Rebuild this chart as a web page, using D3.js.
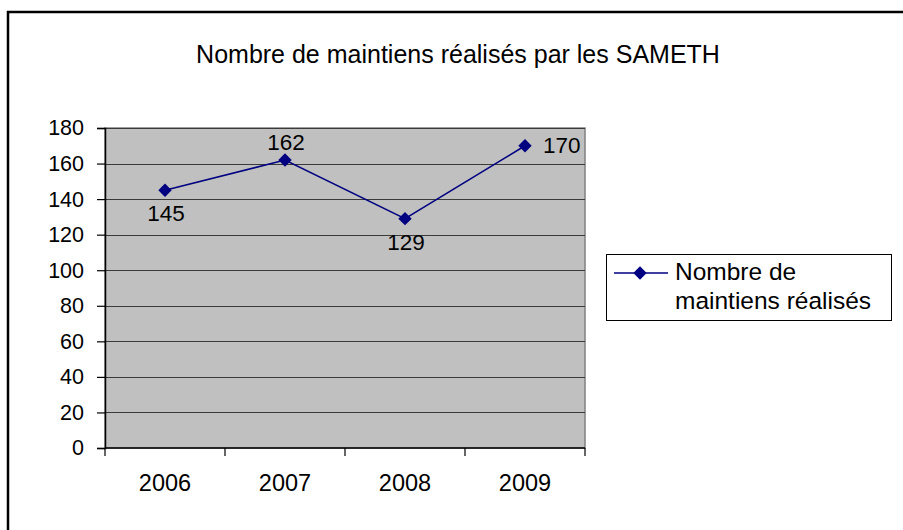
<!DOCTYPE html>
<html>
<head>
<meta charset="utf-8">
<script src="https://cdn.jsdelivr.net/npm/d3@7"></script>
<style>
  html, body { margin: 0; padding: 0; background: #fff; }
  svg { display: block; font-family: "Liberation Sans", Arial, sans-serif; }
</style>
</head>
<body>
<svg id="chart" width="903" height="530"></svg>
<script>
/* Nombre de maintiens réalisés par les SAMETH, line chart */
const years = ["2006", "2007", "2008", "2009"];
const maintiens = [145, 162, 129, 170];
const labelSide = ["below", "above", "below", "right"];
const yTicks = [0, 20, 40, 60, 80, 100, 120, 140, 160, 180];
const title = "Nombre de maintiens réalisés par les SAMETH";
const legendLines = ["Nombre de", "maintiens réalisés"];

const NAVY = "#000080";
const svg = d3.select("#chart");

// outer chart frame (right and bottom edges run off the picture)
svg.append("path")
  .attr("d", "M8,540 L8,12 L910,12")
  .attr("fill", "none").attr("stroke", "#000").attr("stroke-width", 2.5);

svg.append("text")
  .attr("x", 458).attr("y", 63)
  .attr("text-anchor", "middle").attr("font-size", 25)
  .text(title);

const plot = { left: 105, right: 585, top: 128, bottom: 448 };
const x = d3.scaleBand().domain(years).range([plot.left, plot.right]);
const cx = (d) => x(d) + x.bandwidth() / 2;
const y = d3.scaleLinear().domain([0, 180]).range([plot.bottom, plot.top]);

// plot area
svg.append("rect")
  .attr("x", plot.left).attr("y", plot.top)
  .attr("width", plot.right - plot.left).attr("height", plot.bottom - plot.top)
  .attr("fill", "#c0c0c0").attr("stroke", "#808080").attr("stroke-width", 1.5);

// gridlines
svg.append("g").selectAll("line").data(yTicks.filter((d) => d > 0)).join("line")
  .attr("x1", plot.left).attr("x2", plot.right)
  .attr("y1", (d) => Math.round(y(d)) + 0.5).attr("y2", (d) => Math.round(y(d)) + 0.5)
  .attr("stroke", "#3a3a3a").attr("stroke-width", 1.2);

// y axis
const yAxis = svg.append("g")
  .attr("transform", `translate(${plot.left},0)`)
  .call(d3.axisLeft(y).tickValues(yTicks).tickSize(8).tickPadding(13).tickFormat(d3.format("d")));
yAxis.select(".domain").attr("stroke", "#000").attr("stroke-width", 1.5);
yAxis.selectAll(".tick line").attr("stroke", "#000").attr("stroke-width", 1.2);
yAxis.selectAll(".tick text").attr("font-size", 21.5).attr("fill", "#000")
  .attr("font-family", "Liberation Sans, Arial, sans-serif");

// x axis: ticks at category boundaries
const xAxisG = svg.append("g").attr("transform", `translate(0,${plot.bottom})`);
xAxisG.append("line")
  .attr("x1", plot.left).attr("x2", plot.right)
  .attr("stroke", "#000").attr("stroke-width", 1.5);
const bounds = years.map((d) => x(d)).concat([x(years[years.length - 1]) + x.bandwidth()]);
xAxisG.selectAll("line.tk").data(bounds).join("line").attr("class", "tk")
  .attr("x1", (d) => d).attr("x2", (d) => d).attr("y1", 0).attr("y2", 8)
  .attr("stroke", "#000").attr("stroke-width", 1.2);
xAxisG.selectAll("text").data(years).join("text")
  .attr("x", (d) => cx(d)).attr("y", 43)
  .attr("text-anchor", "middle").attr("font-size", 23.5)
  .text((d) => d);

// series
const line = d3.line().x((d, i) => cx(years[i])).y((d) => y(d));
svg.append("path").datum(maintiens)
  .attr("d", line).attr("fill", "none")
  .attr("stroke", NAVY).attr("stroke-width", 1.6);

const diamond = (px, py, r) => `M${px},${py - r} L${px + r},${py} L${px},${py + r} L${px - r},${py} Z`;
svg.append("g").selectAll("path").data(maintiens).join("path")
  .attr("d", (d, i) => diamond(cx(years[i]), y(d), 6.7))
  .attr("fill", NAVY);

// data labels
svg.append("g").selectAll("text").data(maintiens).join("text")
  .attr("font-size", 22.5)
  .attr("x", (d, i) => labelSide[i] === "right" ? cx(years[i]) + 18 : cx(years[i]) + 1)
  .attr("y", (d, i) => {
    const s = labelSide[i];
    return s === "above" ? y(d) - 10 : s === "below" ? y(d) + 31 : y(d) + 7.5;
  })
  .attr("text-anchor", (d, i) => labelSide[i] === "right" ? "start" : "middle")
  .text((d) => d);

// legend
const lg = svg.append("g");
lg.append("rect")
  .attr("x", 606.5).attr("y", 254.5).attr("width", 285).attr("height", 66)
  .attr("fill", "#fff").attr("stroke", "#000").attr("stroke-width", 1);
lg.append("line")
  .attr("x1", 614).attr("x2", 668).attr("y1", 273).attr("y2", 273)
  .attr("stroke", NAVY).attr("stroke-width", 1.6);
lg.append("path").attr("d", diamond(640, 273, 6.7)).attr("fill", NAVY);
lg.selectAll("text").data(legendLines).join("text")
  .attr("x", 675).attr("y", (d, i) => 280 + i * 29)
  .attr("font-size", 24.5)
  .text((d) => d);
</script>
</body>
</html>
